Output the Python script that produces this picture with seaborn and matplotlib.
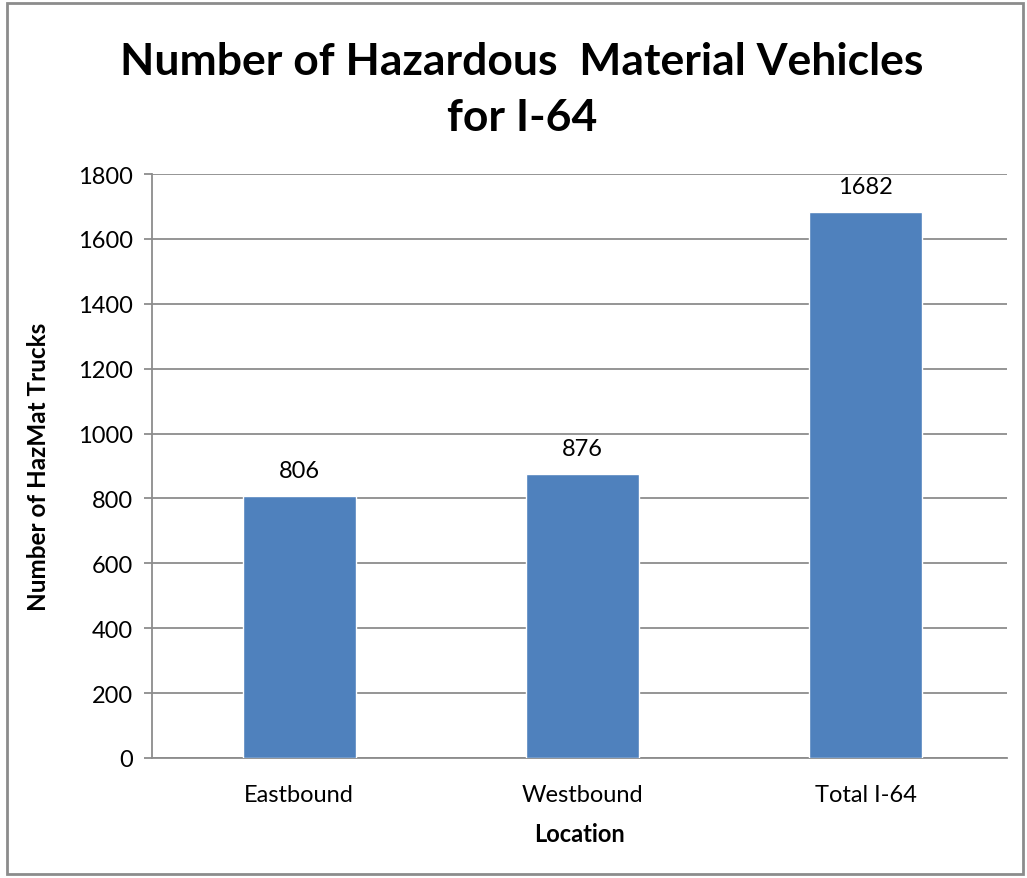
import matplotlib
matplotlib.use("Agg")
import matplotlib.pyplot as plt
import seaborn as sns
import pandas as pd
from matplotlib.patches import Rectangle

categories = ["Eastbound", "Westbound", "Total I-64"]
values = [806, 876, 1682]
yticks = [0, 200, 400, 600, 800, 1000, 1200, 1400, 1600, 1800]

sns.set_theme(style="white")
plt.rcParams['font.family'] = ['Lato', 'DejaVu Sans']
plt.rcParams['text.color'] = 'black'
plt.rcParams['axes.labelcolor'] = 'black'
plt.rcParams['xtick.color'] = 'black'
plt.rcParams['ytick.color'] = 'black'

df = pd.DataFrame({"Location": categories, "Count": values})

fig = plt.figure(figsize=(10.27, 8.79), dpi=100)
ax = fig.add_axes([152/1027, 1-759/879, (1007-152)/1027, (759-175)/879])

sns.barplot(data=df, x="Location", y="Count", color="#4F81BD", saturation=1,
            width=0.4, ax=ax, zorder=3)

ax.set_ylim(0, 1800)
ax.set_xlim(-0.52, 2.5)
ax.set_yticks(yticks)
ax.set_yticklabels([str(t) for t in yticks])
ax.yaxis.grid(True, color="#8c8c8c", linewidth=1.3, zorder=0)
ax.xaxis.grid(False)
ax.set_axisbelow(True)
for s in ["top", "right"]:
    ax.spines[s].set_visible(False)
for s in ["left", "bottom"]:
    ax.spines[s].set_color("#8c8c8c")
    ax.spines[s].set_linewidth(1.3)
ax.tick_params(axis="y", which="major", left=True, length=6, width=1.3,
               color="#8c8c8c", labelcolor="black", labelsize=17, pad=8)
ax.tick_params(axis="x", which="major", bottom=False, labelcolor="black",
               labelsize=17, pad=13)

for i, v in enumerate(values):
    ax.annotate(str(v), (i, v), xytext=(0, 11), textcoords="offset points",
                ha="center", va="bottom", fontsize=17, color="black")

ax.set_xlabel("Location", fontsize=17, fontweight="bold", labelpad=12, color="black")
ax.set_ylabel("Number of HazMat Trucks", fontsize=17.5, fontweight="bold", labelpad=20,
              color="black")

fig.text(522/1027, 1-90/879, "Number of Hazardous  Material Vehicles\nfor I-64",
         ha="center", va="center", fontsize=32, fontweight="bold",
         linespacing=1.5, color="black")

fig.patches.append(Rectangle((7/1027, 4/879), 1016/1027, 871/879, transform=fig.transFigure,
                             fill=False, edgecolor="#8c8c8c", linewidth=2))

fig.savefig("out.png", dpi=100)
